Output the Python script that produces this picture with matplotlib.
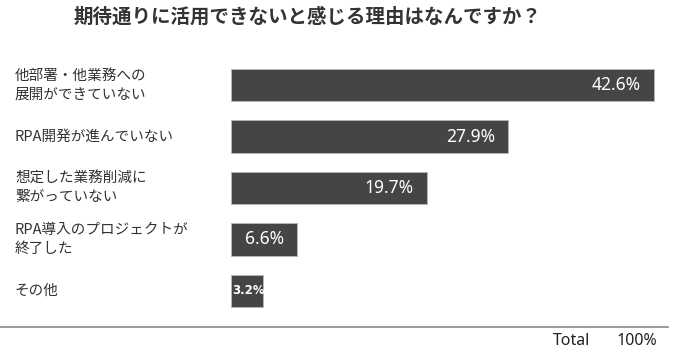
import matplotlib
matplotlib.use("Agg")
import matplotlib.pyplot as plt
from matplotlib.transforms import blended_transform_factory
from matplotlib.lines import Line2D

plt.rcParams['font.family'] = ['Noto Sans CJK JP', 'DejaVu Sans']

## -------------------- data
title = "期待通りに活用できないと感じる理由はなんですか？"
labels = ["他部署・他業務への\n展開ができていない",
          "RPA開発が進んでいない",
          "想定した業務削減に\n繋がっていない",
          "RPA導入のプロジェクトが\n終了した",
          "その他"]
values = [42.6, 27.9, 19.7, 6.6, 3.2]
total_label = "Total"
total_value = "100%"

W, H = 690, 361
fig = plt.figure(figsize=(W / 100, H / 100), dpi=100)

# axes placed in pixels: bars start at x=231, rows 51.5 px apart
px_per_unit = 9.93
ax_left = 231
ax_top, ax_bot = 59.25, 316.75
ax = fig.add_axes([ax_left / W, 1 - ax_bot / H, (W - ax_left) / W, (ax_bot - ax_top) / H])
ax.set_xlim(0, (W - ax_left) / px_per_unit)
ax.set_ylim(len(values) - 0.5, -0.5)
ax.axis('off')

ypos = list(range(len(values)))
ax.barh(ypos, values, height=0.63, color='#454545', edgecolor='#b5b5b5', linewidth=0.7)

## -------------------- value labels
for y, v in zip(ypos, values):
    txt = f"{v}%"
    if v < 5:
        ax.text(0.1, y, txt, ha='left', va='center', color='white',
                fontsize=8.5, fontweight='bold', family=['DejaVu Sans'])
    else:
        ax.text(v - 1.3, y, txt, ha='right', va='center', color='white',
                fontsize=12.5, fontweight='medium', family=['Noto Sans', 'DejaVu Sans'])

## -------------------- category labels
tr = blended_transform_factory(fig.transFigure, ax.transData)
for y, lab in zip(ypos, labels):
    ax.text(15 / W, y, lab, transform=tr, ha='left', va='center',
            fontsize=10.5, color='#333333', linespacing=1.45)

## -------------------- title
fig.text(308 / W, 1 - 17 / H, title, ha='center', va='center',
         fontsize=14, fontweight='bold', color='#333333')

## -------------------- bottom rule and total
fig.add_artist(Line2D([0, 668 / W], [1 - 327 / H, 1 - 327 / H],
                      transform=fig.transFigure, color='#8a8a8a', lw=1.2))
fig.text(553 / W, 1 - 341 / H, total_label, ha='left', va='center',
         fontsize=11.5, color='#222222', family=['Noto Sans', 'DejaVu Sans'])
fig.text(657 / W, 1 - 341 / H, total_value, ha='right', va='center',
         fontsize=11.5, color='#222222', family=['Noto Sans', 'DejaVu Sans'])

fig.savefig("out.png", dpi=100, facecolor='white')
